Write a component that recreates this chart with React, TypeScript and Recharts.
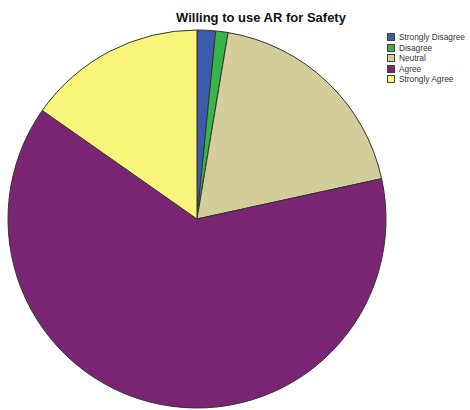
import { Cell, Legend, Pie, PieChart } from "recharts";

const categories = ["Strongly Disagree", "Disagree", "Neutral", "Agree", "Strongly Agree"];
const counts = [3, 2, 36, 120, 29];
const colors = ["#3c5bab", "#35b54a", "#d3cd9a", "#7a2474", "#f9f57a"];

const data = categories.map((name, i) => ({ name, value: counts[i] }));

const renderLegend = () => (
  <div style={{ fontFamily: "'Liberation Sans', Arial, sans-serif", fontSize: 8.3, color: "#333" }}>
    {categories.map((c, i) => (
      <div key={c} style={{ display: "flex", alignItems: "center", height: 10.5 }}>
        <span
          style={{
            width: 8,
            height: 8,
            background: colors[i],
            border: "1px solid #444",
            boxSizing: "border-box",
            marginRight: 4,
            flexShrink: 0,
          }}
        />
        <span style={{ lineHeight: "10px", whiteSpace: "nowrap" }}>{c}</span>
      </div>
    ))}
  </div>
);

export default function App() {
  return (
    <div style={{ position: "absolute", left: 0, top: 0, width: 470, height: 410, background: "#fff" }}>
      <div
        style={{
          position: "absolute",
          left: 150,
          top: 10,
          width: 222,
          textAlign: "center",
          fontFamily: "'Liberation Sans', Arial, sans-serif",
          fontWeight: 700,
          fontSize: 13,
          color: "#111",
        }}
      >
        Willing to use AR for Safety
      </div>
      <PieChart width={470} height={410} margin={{ top: 0, right: 0, bottom: 0, left: 0 }}>
        <Pie
          data={data}
          dataKey="value"
          nameKey="name"
          cx={197}
          cy={219}
          outerRadius={189}
          startAngle={90}
          endAngle={-270}
          stroke="#333"
          strokeWidth={1}
          isAnimationActive={false}
        >
          {data.map((_, i) => (
            <Cell key={i} fill={colors[i]} />
          ))}
        </Pie>
        <Legend
          content={renderLegend}
          layout="vertical"
          align="right"
          verticalAlign="top"
          wrapperStyle={{ position: "absolute", left: 387, top: 32, width: 83 }}
        />
      </PieChart>
    </div>
  );
}
